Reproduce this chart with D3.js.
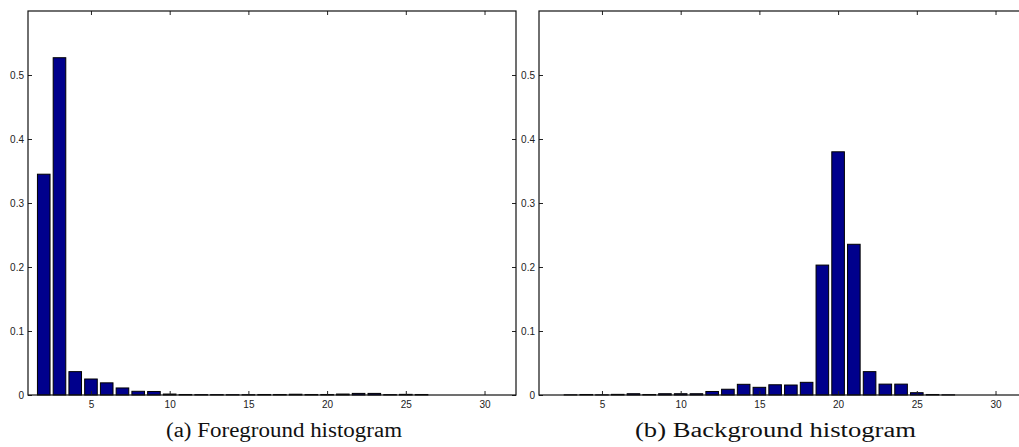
<!DOCTYPE html>
<html>
<head>
<meta charset="utf-8">
<script src="https://cdn.jsdelivr.net/npm/d3@7"></script>
<style>
  html, body { margin: 0; padding: 0; background: #fff; }
  svg { display: block; }
  .tick text { font-family: "Liberation Sans", Arial, sans-serif; font-size: 10px; fill: #222; }
  .caption { font-family: "Liberation Serif", "Times New Roman", serif; font-size: 20px; fill: #111; }
</style>
</head>
<body>
<svg id="chart" width="1019" height="447"></svg>
<script>
// Histogram bins (index 1..31)
const bins = [1, 2, 3, 4, 5, 6, 7, 8, 9, 10, 11, 12, 13, 14, 15, 16, 17, 18, 19, 20,
              21, 22, 23, 24, 25, 26, 27, 28, 29, 30, 31];

// Normalised foreground histogram
const foreground = [0, 0.345, 0.527, 0.0365, 0.025, 0.019, 0.011, 0.0058, 0.0055, 0.0015,
                    0.0008, 0.0006, 0.0006, 0.0005, 0.0005, 0.0008, 0.0008, 0.0012, 0.0008, 0.0008,
                    0.0015, 0.0025, 0.0025, 0.0006, 0.001, 0.0008, 0, 0, 0, 0, 0];

// Normalised background histogram
const background = [0, 0, 0.0003, 0.0008, 0.0003, 0.001, 0.002, 0.0008, 0.002, 0.002,
                    0.002, 0.0055, 0.009, 0.0167, 0.012, 0.016, 0.0156, 0.0198, 0.203, 0.380,
                    0.2355, 0.0365, 0.017, 0.017, 0.0036, 0.0008, 0.0003, 0, 0, 0, 0];

const xTicks = [5, 10, 15, 20, 25, 30];
const yTicks = [0, 0.1, 0.2, 0.3, 0.4, 0.5];
const captions = ["(a) Foreground histogram", "(b) Background histogram"];

const svg = d3.select("#chart");
const barColor = "#00008c";

const y = d3.scaleLinear().domain([0, 0.6]).range([395, 11]);
const yFmt = d => d === 0 ? "0" : d3.format(".1f")(d);

function panel(values, left, right, caption, capX, capLen) {
  const x = d3.scaleLinear().domain([1, 32]).range([left, right]);
  const g = svg.append("g");

  // bars
  g.selectAll("rect.bar")
    .data(bins.map((b, i) => ({ b, v: values[i] })))
    .join("rect")
    .attr("class", "bar")
    .attr("x", d => x(d.b - 0.4))
    .attr("width", d => x(d.b + 0.4) - x(d.b - 0.4))
    .attr("y", d => y(d.v))
    .attr("height", d => y(0) - y(d.v))
    .attr("fill", barColor)
    .attr("stroke", "#000")
    .attr("stroke-width", 1);

  // axes with inward ticks on all four sides
  const bottom = g.append("g").attr("transform", `translate(0,${y(0)})`)
    .call(d3.axisBottom(x).tickValues(xTicks).tickSizeInner(-4).tickSizeOuter(0).tickPadding(6));
  const top = g.append("g").attr("transform", `translate(0,${y(0.6)})`)
    .call(d3.axisTop(x).tickValues(xTicks).tickSizeInner(-4).tickSizeOuter(0).tickFormat(""));
  const leftAx = g.append("g").attr("transform", `translate(${left},0)`)
    .call(d3.axisLeft(y).tickValues(yTicks).tickFormat(yFmt).tickSizeInner(-4).tickSizeOuter(0).tickPadding(4));
  const rightAx = g.append("g").attr("transform", `translate(${right},0)`)
    .call(d3.axisRight(y).tickValues(yTicks).tickSizeInner(-4).tickSizeOuter(0).tickFormat(""));

  [bottom, top, leftAx, rightAx].forEach(a => {
    a.select(".domain").remove();
    a.selectAll(".tick line").attr("stroke", "#222");
  });

  // axes box
  g.append("rect")
    .attr("x", left).attr("y", y(0.6))
    .attr("width", right - left).attr("height", y(0) - y(0.6))
    .attr("fill", "none").attr("stroke", "#111").attr("stroke-width", 1.2);

  svg.append("text")
    .attr("class", "caption")
    .attr("x", capX).attr("y", 437)
    .attr("textLength", capLen)
    .attr("lengthAdjust", "spacingAndGlyphs")
    .text(caption);
}

panel(foreground, 28, 516, captions[0], 166, 236);
panel(background, 539, 1027, captions[1], 635, 281);
</script>
</body>
</html>
